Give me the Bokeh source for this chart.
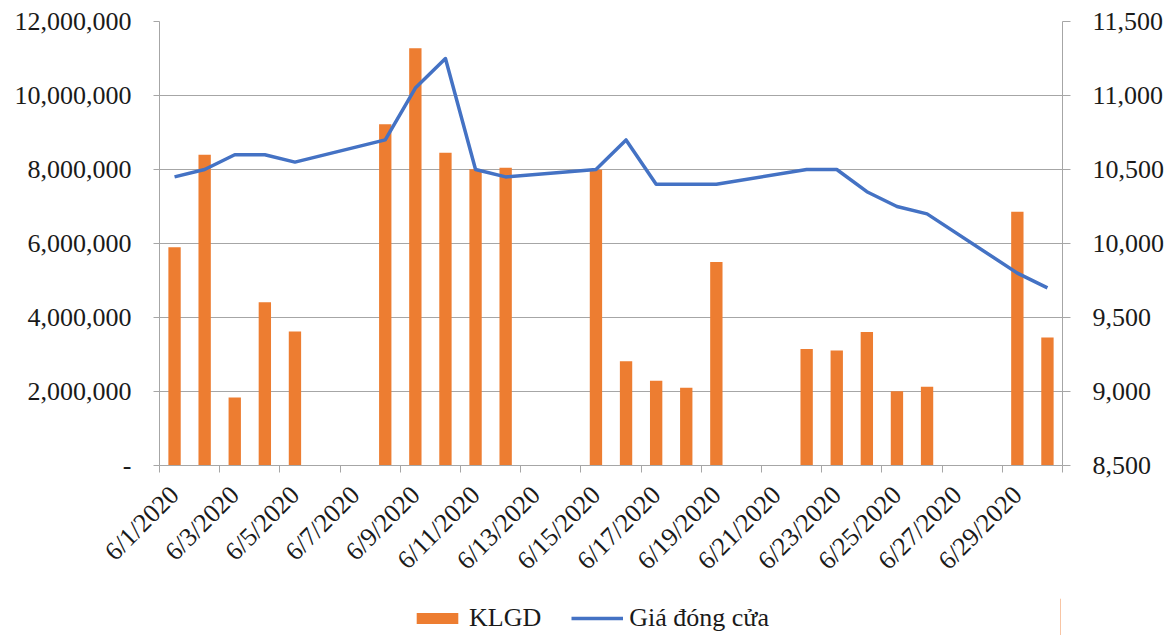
import math
import pandas as pd
from bokeh.plotting import figure
from bokeh.layouts import column
from bokeh.models import (Range1d, LinearAxis, FixedTicker, Legend, LegendItem,
                          NumeralTickFormatter, ColumnDataSource)
from bokeh.embed import file_html
from bokeh.resources import INLINE

# ---- data ----
dates = ["6/1/2020", "6/2/2020", "6/3/2020", "6/4/2020", "6/5/2020",
         "6/8/2020", "6/9/2020", "6/10/2020", "6/11/2020", "6/12/2020",
         "6/15/2020", "6/16/2020", "6/17/2020", "6/18/2020", "6/19/2020",
         "6/22/2020", "6/23/2020", "6/24/2020", "6/25/2020", "6/26/2020",
         "6/29/2020", "6/30/2020"]
klgd = [5900000, 8400000, 1840000, 4410000, 3620000,
        9220000, 11280000, 8450000, 8010000, 8050000,
        7990000, 2820000, 2290000, 2100000, 5500000,
        3150000, 3110000, 3610000, 2010000, 2130000,
        6860000, 3460000]
gia = [10450, 10500, 10600, 10600, 10550,
       10700, 11050, 11250, 10500, 10450,
       10500, 10700, 10400, 10400, 10400,
       10500, 10500, 10350, 10250, 10200,
       9800, 9700]
tick_labels = ["6/1/2020", "6/3/2020", "6/5/2020", "6/7/2020", "6/9/2020",
               "6/11/2020", "6/13/2020", "6/15/2020", "6/17/2020", "6/19/2020",
               "6/21/2020", "6/23/2020", "6/25/2020", "6/27/2020", "6/29/2020"]
left_ticks = [0, 2000000, 4000000, 6000000, 8000000, 10000000, 12000000]
right_ticks = [8500, 9000, 9500, 10000, 10500, 11000, 11500]
series_names = ["KLGD", "Giá đóng cửa"]

# ---- build ----
day = [pd.to_datetime(d, format="%m/%d/%Y").day for d in dates]
tick_days = [pd.to_datetime(d, format="%m/%d/%Y").day for d in tick_labels]
src = ColumnDataSource(dict(x=day, klgd=klgd, gia=gia))

FONT = "Liberation Serif"
TXT = "#1a1a1a"
GRID = "#a6a6a6"
ORANGE = "#ED7D31"
BLUE = "#4472C4"

p = figure(frame_width=903, frame_height=444, output_backend="svg",
           toolbar_location=None, x_range=Range1d(0.5, 30.5),
           y_range=Range1d(0, 12000000),
           min_border_left=159, min_border_right=103, min_border_top=21,
           min_border_bottom=133)
p.outline_line_color = None
p.background_fill_color = "white"
p.xgrid.grid_line_color = None
p.ygrid.grid_line_color = GRID
p.ygrid.grid_line_width = 1
p.ygrid.ticker = FixedTicker(ticks=left_ticks)

p.extra_y_ranges = {"price": Range1d(8500, 11500)}

bars = p.vbar(x="x", top="klgd", width=0.41, source=src,
              fill_color=ORANGE, line_color=None)
line = p.line(x="x", y="gia", source=src, y_range_name="price",
              line_color=BLUE, line_width=3.5, line_join="round")

# left axis
ya = p.yaxis[0]
ya.ticker = FixedTicker(ticks=left_ticks)
ya.formatter = NumeralTickFormatter(format="0,0")
ya.major_label_overrides = {0: "-"}
ya.axis_line_color = GRID
ya.major_tick_line_color = GRID
ya.major_tick_out = 6
ya.major_tick_in = 0
ya.minor_tick_line_color = None
ya.major_label_standoff = 22
ya.major_label_text_font = FONT
ya.major_label_text_font_size = "26px"
ya.major_label_text_color = TXT

# right axis
ra = LinearAxis(y_range_name="price", ticker=FixedTicker(ticks=right_ticks),
                formatter=NumeralTickFormatter(format="0,0"))
ra.axis_line_color = GRID
ra.major_tick_line_color = GRID
ra.major_tick_out = 8
ra.major_tick_in = 0
ra.minor_tick_line_color = None
ra.major_label_standoff = 22
ra.major_label_text_font = FONT
ra.major_label_text_font_size = "26px"
ra.major_label_text_color = TXT
p.add_layout(ra, "right")

# bottom axis
xa = p.xaxis[0]
xa.ticker = FixedTicker(ticks=tick_days,
                        minor_ticks=[d - 0.5 for d in tick_days] + [30.5])
xa.major_label_overrides = {d: l for d, l in zip(tick_days, tick_labels)}
xa.major_label_orientation = math.pi / 4
xa.axis_line_color = GRID
xa.major_tick_line_color = None
xa.minor_tick_line_color = GRID
xa.minor_tick_out = 7
xa.minor_tick_in = 0
xa.major_tick_out = 7
xa.major_label_standoff = 18
xa.major_label_text_font = FONT
xa.major_label_text_font_size = "26px"
xa.major_label_text_color = TXT

# ---- legend strip (separate small figure below) ----
lf = figure(width=1165, height=37, output_backend="svg", toolbar_location=None,
            x_range=Range1d(0, 1), y_range=Range1d(0, 1),
            x_axis_location=None, y_axis_location=None, min_border=0)
lf.outline_line_color = None
lf.grid.grid_line_color = None
# legend proxies: one point placed outside the visible range so only the
# legend swatches are drawn
proxy = ColumnDataSource(dict(x=[5, 6], y=[5, 6]))
lb = lf.vbar(x="x", top="y", width=0.1, source=proxy,
             fill_color=ORANGE, line_color=None)
ll = lf.line(x="x", y="y", source=proxy, line_color=BLUE, line_width=3.5)
legend = Legend(items=[LegendItem(label=series_names[0], renderers=[lb]),
                       LegendItem(label=series_names[1], renderers=[ll])],
                orientation="horizontal", location=(252, 2),
                border_line_color=None, background_fill_alpha=0,
                label_text_font=FONT, label_text_font_size="26px",
                label_text_color=TXT, glyph_width=52, glyph_height=14,
                spacing=30, label_standoff=6, padding=0, margin=0)
lf.add_layout(legend, "center")

layout = column(p, lf, spacing=0)
open("out.html", "w").write(file_html(layout, INLINE))
